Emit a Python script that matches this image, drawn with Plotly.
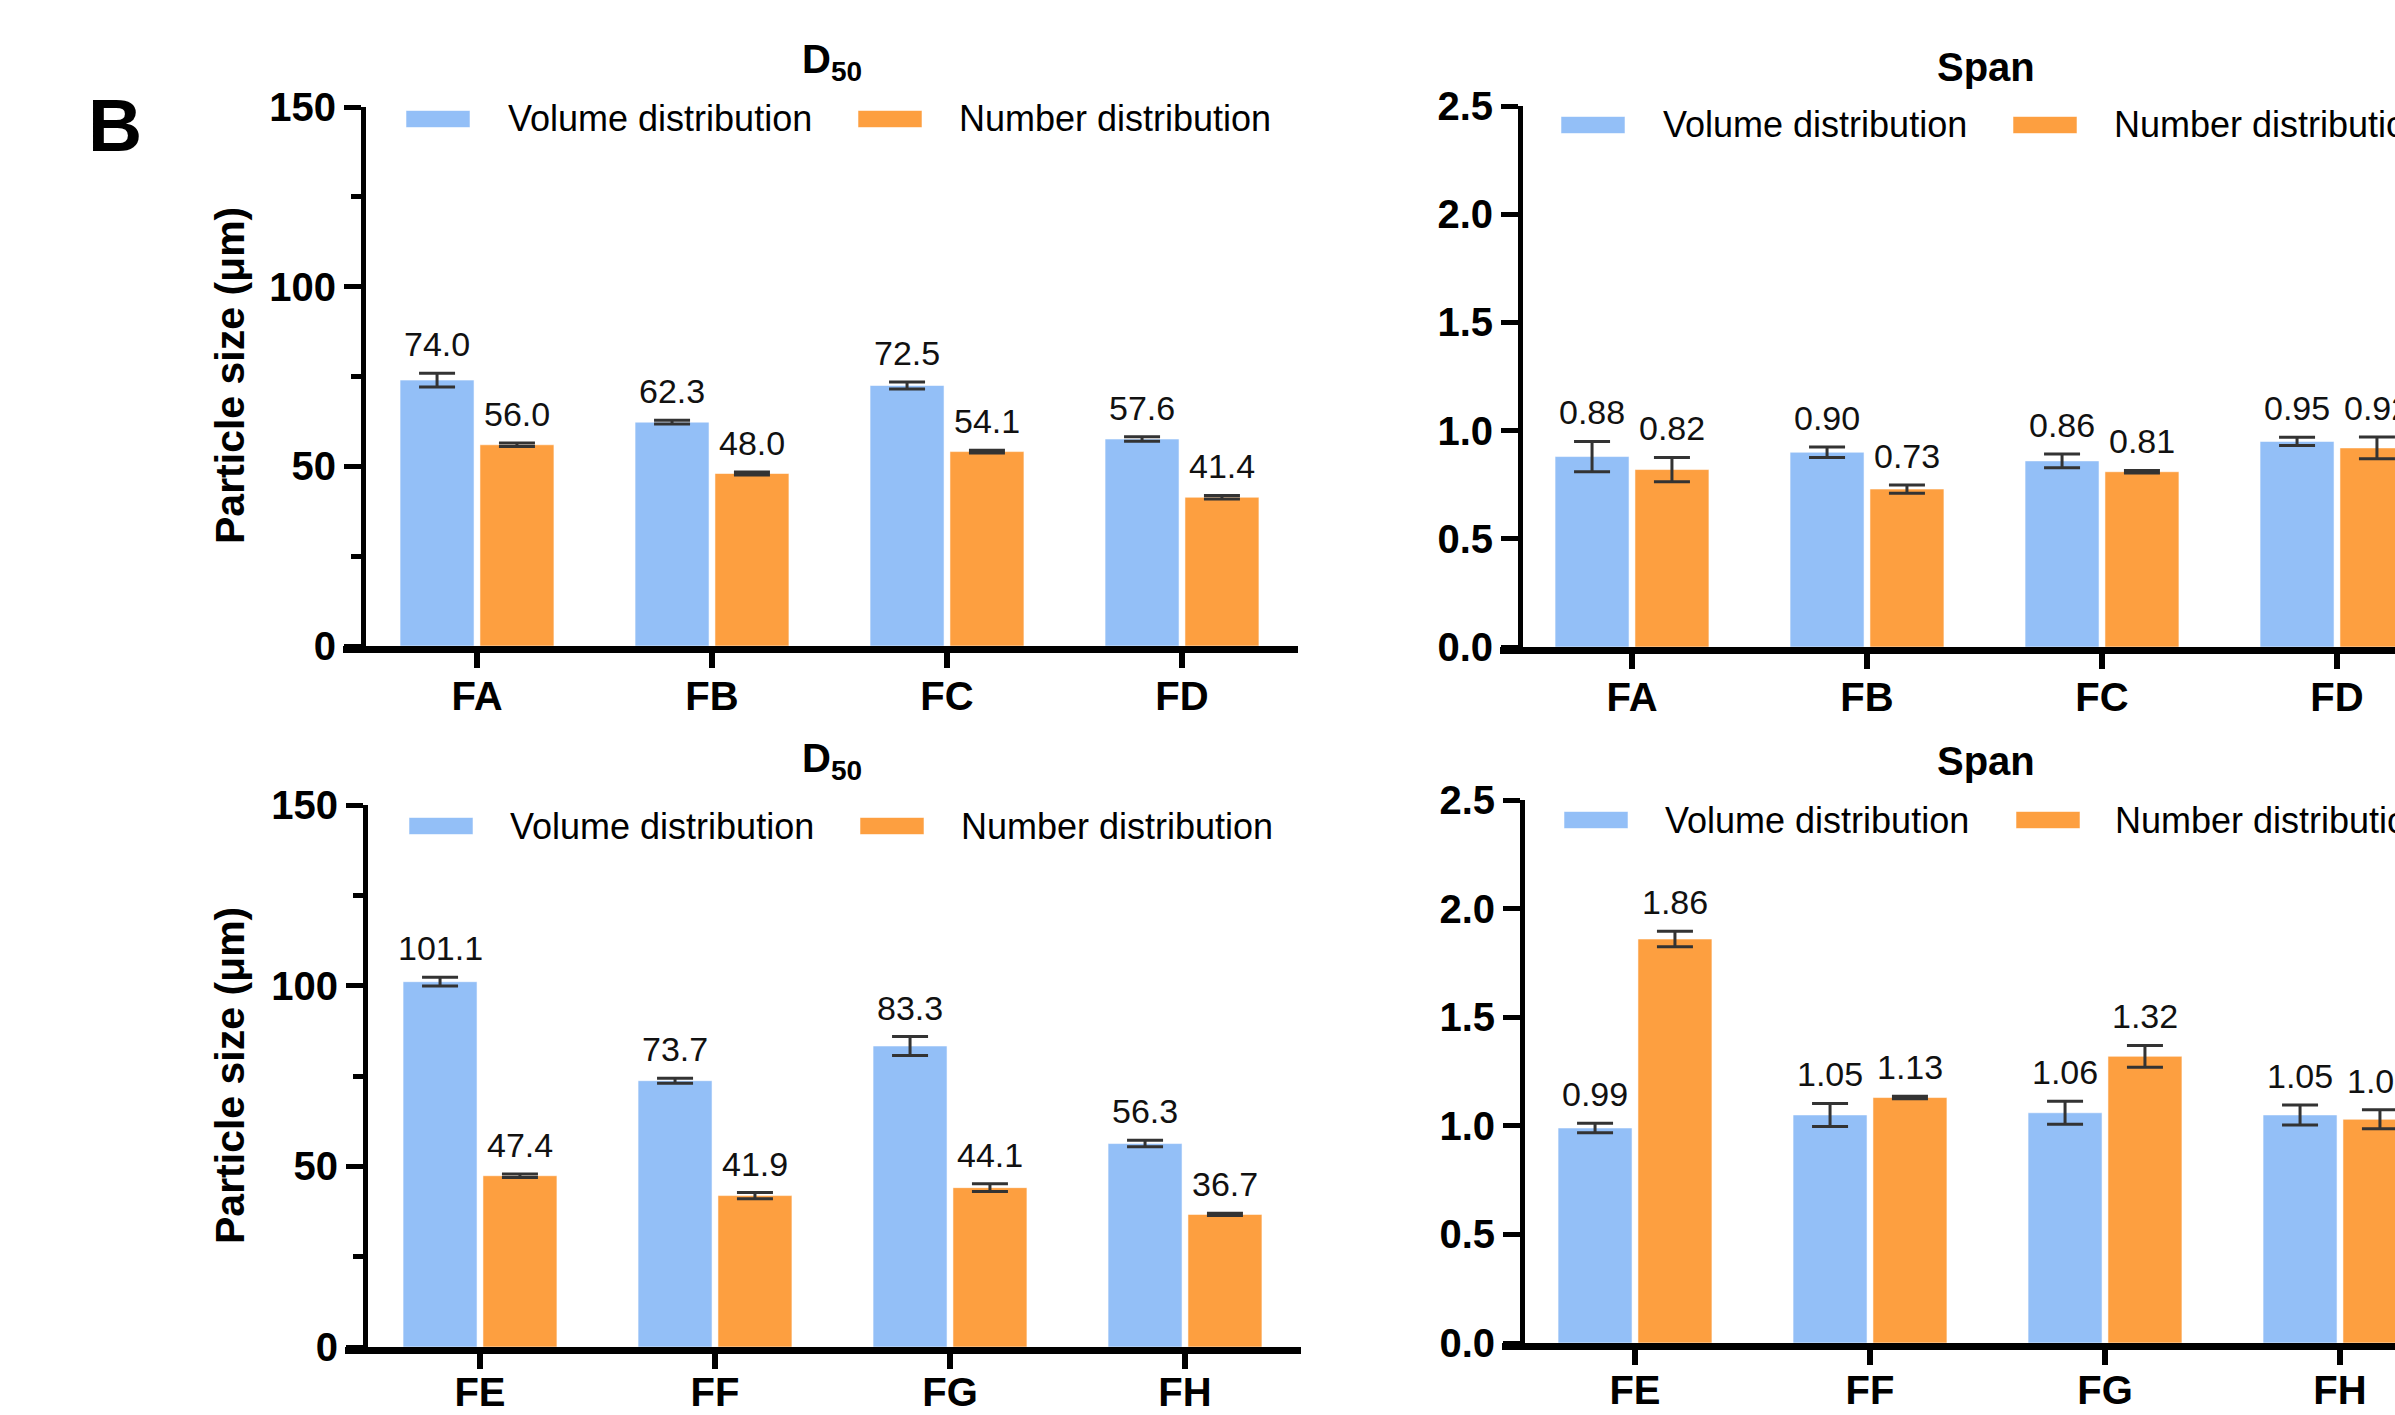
import plotly.graph_objects as go

# ---------------- data ----------------
cats_top = ["FA", "FB", "FC", "FD"]
cats_bot = ["FE", "FF", "FG", "FH"]
series_names = ["Volume distribution", "Number distribution"]

d50_vol_top = [74.0, 62.3, 72.5, 57.6]
d50_vol_top_err = [1.9, 0.5, 1.0, 0.6]
d50_num_top = [56.0, 48.0, 54.1, 41.4]
d50_num_top_err = [0.5, 0.4, 0.4, 0.5]

span_vol_top = [0.88, 0.90, 0.86, 0.95]
span_vol_top_err = [0.07, 0.024, 0.032, 0.019]
span_num_top = [0.82, 0.73, 0.81, 0.92]
span_num_top_err = [0.056, 0.019, 0.006, 0.05]

d50_vol_bot = [101.1, 73.7, 83.3, 56.3]
d50_vol_bot_err = [1.2, 0.7, 2.6, 0.9]
d50_num_bot = [47.4, 41.9, 44.1, 36.7]
d50_num_bot_err = [0.5, 0.85, 1.05, 0.3]

span_vol_bot = [0.99, 1.05, 1.06, 1.05]
span_vol_bot_err = [0.022, 0.053, 0.053, 0.046]
span_num_bot = [1.86, 1.13, 1.32, 1.03]
span_num_bot_err = [0.036, 0.006, 0.05, 0.044]

# ---------------- style ----------------
W, H = 2395, 1415
FONT = "Liberation Sans, Arial, sans-serif"
BLUE = "#93BFF7"
ORANGE = "#FD9F40"
ERRC = "#333333"

def px(x):
    return x / W

def py(y):
    return 1 - y / H

BARGAP = 0.32
BARGROUPGAP = 0.074
SLOT = (1 - BARGAP) / 2

fig = go.Figure()

panels = [
    ("x", "y", cats_top, d50_vol_top, d50_vol_top_err, d50_num_top, d50_num_top_err, "{:.1f}"),
    ("x2", "y2", cats_top, span_vol_top, span_vol_top_err, span_num_top, span_num_top_err, "{:.2f}"),
    ("x3", "y3", cats_bot, d50_vol_bot, d50_vol_bot_err, d50_num_bot, d50_num_bot_err, "{:.1f}"),
    ("x4", "y4", cats_bot, span_vol_bot, span_vol_bot_err, span_num_bot, span_num_bot_err, "{:.2f}"),
]

annotations = []
for xa, ya, cats, vol, vol_e, num, num_e, fmt in panels:
    for name, vals, errs, col, sign in [
        (series_names[0], vol, vol_e, BLUE, -1),
        (series_names[1], num, num_e, ORANGE, 1),
    ]:
        fig.add_trace(go.Bar(
            x=cats, y=vals, name=name, xaxis=xa, yaxis=ya,
            marker=dict(color=col, line=dict(color="rgba(255,255,255,0.55)", width=1)),
            error_y=dict(type="data", array=errs, visible=True,
                         color=ERRC, thickness=3, width=18),
            showlegend=False,
        ))
        for i, (v, e) in enumerate(zip(vals, errs)):
            annotations.append(dict(
                x=i + sign * SLOT / 2, y=v + e, xref=xa, yref=ya,
                text=fmt.format(v), showarrow=False, yanchor="bottom",
                xanchor="center", yshift=8,
                font=dict(family=FONT, size=34, color="#111111"),
            ))

# axis geometry (pixel measurements)
x_geo = {
    "xaxis": dict(dom=(343, 1298), first=477, ylinex=363, stand=-6),
    "xaxis2": dict(dom=(1500, 2395), first=1632, ylinex=1520, stand=-6),
    "xaxis3": dict(dom=(345, 1301), first=480, ylinex=365, stand=-11),
    "xaxis4": dict(dom=(1502, 2395), first=1635, ylinex=1522, stand=-9),
}
SPACING = 235.0
y_geo = {
    "yaxis": (646, 107),
    "yaxis2": (647, 106),
    "yaxis3": (1347, 805),
    "yaxis4": (1343, 800),
}

layout_axes = {}
for k, (xk, yk) in enumerate(zip(["xaxis", "xaxis2", "xaxis3", "xaxis4"],
                                  ["yaxis", "yaxis2", "yaxis3", "yaxis4"])):
    g = x_geo[xk]
    d0, d1 = g["dom"]
    r0 = -(g["first"] - d0) / SPACING
    r1 = r0 + (d1 - d0) / SPACING
    yid = "y" if k == 0 else f"y{k+1}"
    layout_axes[xk] = dict(
        domain=[px(d0), px(d1)], anchor=yid, type="category",
        range=[r0, r1], showline=True, linewidth=7, linecolor="black",
        ticks="outside", ticklen=15, tickwidth=6, tickcolor="black",
        tickfont=dict(family=FONT, size=40, color="black", weight="bold"),
        ticklabelstandoff=g["stand"],
        showgrid=False, zeroline=False, fixedrange=True,
    )
    yb, yt = y_geo[yk]
    is_span = k in (1, 3)
    yax = dict(
        domain=[py(yb), py(yt)], anchor="free", position=px(g["ylinex"]),
        showline=True, linewidth=5, linecolor="black",
        ticks="outside", ticklen=17, tickwidth=5, tickcolor="black",
        tickfont=dict(family=FONT, size=40, color="black", weight="bold"),
        showgrid=False, zeroline=False, fixedrange=True,
    )
    if is_span:
        yax.update(range=[0, 2.5], tickvals=[0, 0.5, 1.0, 1.5, 2.0, 2.5], tickformat=".1f")
    else:
        yax.update(range=[0, 150], tickvals=[0, 50, 100, 150],
                   minor=dict(tickvals=[25, 75, 125], ticks="outside", ticklen=10,
                              tickwidth=5, tickcolor="black"))
    layout_axes[yk] = yax

# titles
for tx, ty, t in [(832, 62, "D<sub>50</sub>"), (1986, 67, "Span"),
                  (832, 761, "D<sub>50</sub>"), (1986, 761, "Span")]:
    annotations.append(dict(x=px(tx), y=py(ty), xref="paper", yref="paper",
                            text=t, showarrow=False, xanchor="center", yanchor="middle",
                            font=dict(family=FONT, size=40, color="black", weight="bold")))

# y-axis titles
for ty in [376, 1076]:
    annotations.append(dict(x=px(230), y=py(ty), xref="paper", yref="paper",
                            text="Particle size (μm)", textangle=-90, showarrow=False,
                            xanchor="center", yanchor="middle",
                            font=dict(family=FONT, size=41, color="black", weight="bold")))

# panel label
annotations.append(dict(x=px(115), y=py(125), xref="paper", yref="paper", text="B",
                        showarrow=False, xanchor="center", yanchor="middle",
                        font=dict(family=FONT, size=75, color="black", weight="bold")))

# legends (swatches + text)
shapes = []
legends = [
    (406, 506, 858, 957, 119),
    (1561, 1661, 2013, 2112, 125),
    (409, 508, 860, 959, 826),
    (1564, 1663, 2016, 2113, 820),
]
for vx, vtx, nx, ntx, cy in legends:
    for sx, tx, col, name in [(vx, vtx, BLUE, series_names[0]), (nx, ntx, ORANGE, series_names[1])]:
        shapes.append(dict(type="rect", xref="paper", yref="paper",
                           x0=px(sx), x1=px(sx + 64), y0=py(cy + 8.5), y1=py(cy - 8.5),
                           fillcolor=col, line=dict(color="rgba(255,255,255,0.55)", width=1)))
        annotations.append(dict(x=px(tx), y=py(cy), xref="paper", yref="paper", text=name,
                                showarrow=False, xanchor="left", yanchor="middle",
                                font=dict(family=FONT, size=36, color="black")))

fig.update_layout(
    width=W, height=H,
    margin=dict(l=0, r=0, t=0, b=0, autoexpand=False),
    paper_bgcolor="white", plot_bgcolor="white",
    barmode="group", bargap=BARGAP, bargroupgap=BARGROUPGAP,
    showlegend=False,
    annotations=annotations, shapes=shapes,
    font=dict(family=FONT),
    **layout_axes,
)

fig.write_html("out.html",
               config={"displayModeBar": False},
               post_script="document.body.style.margin='0';document.body.style.overflow='hidden';")
